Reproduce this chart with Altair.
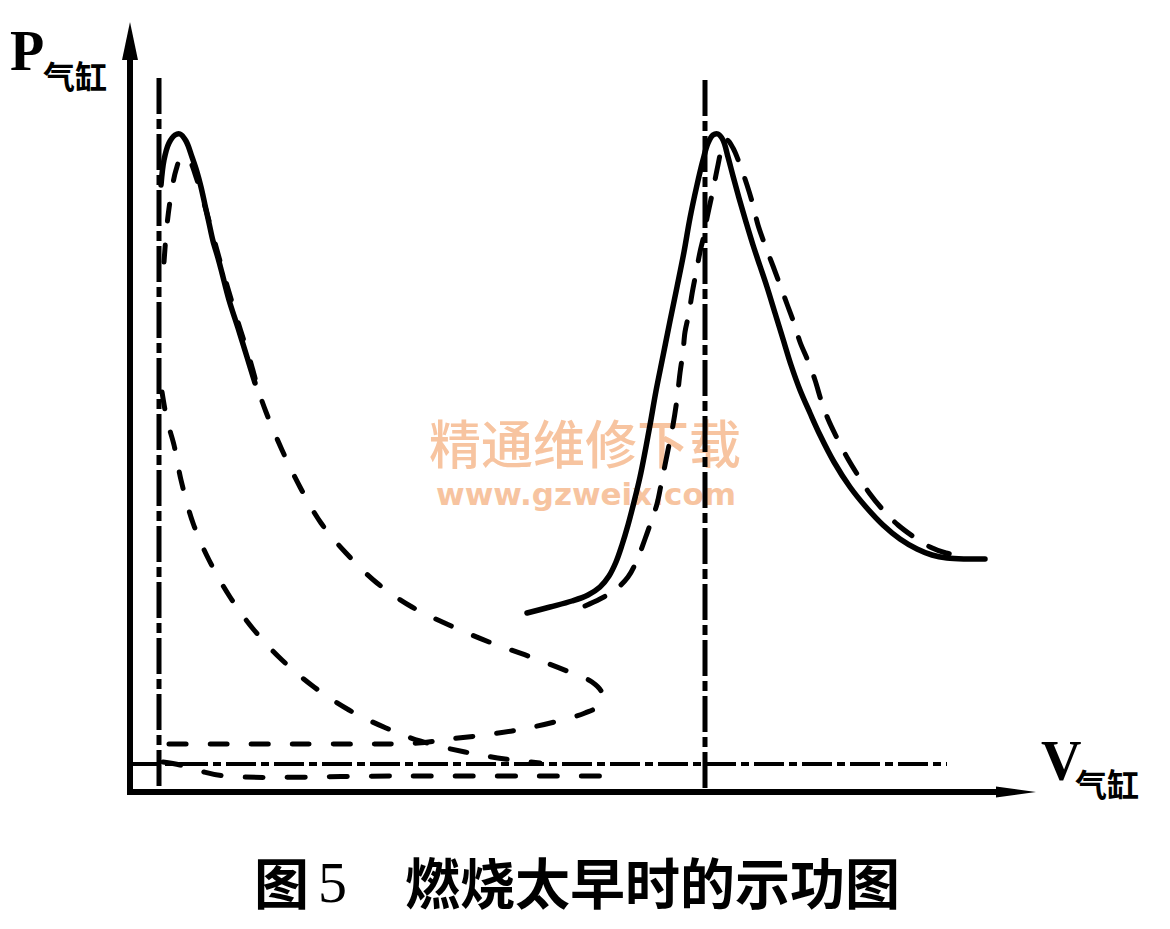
import altair as alt
import pandas as pd

# ---- values (picture px: x right, y down) ----
X0, Y0 = 130, 792          # where the two axes meet in the picture

solid_left = [(161,185),(164,160),(169,143),(175,135),(180,134),(186,141),(192,157),(197,172),
              (201,187),(205,205),(209,223),(213,241),(218,258),(222,273),(229,300),(238,328),
              (247,357),(255,383)]

dashed_outer = [(164,262),(167,225),(171,195),(176,170),(182,156),(189,160),(197,180),(206,210),
                (215,243),(226,282),(238,322),(250,360),(259,392),(266,412),(282,450),(300,487),
                (321,523),(346,553),(377,583),(412,607),(449,625),(489,642),(528,656),(567,671),
                (592,682),(602,693),(600,705),(585,713),(573,717),(533,727),(492,734),(450,739),
                (418,743),(380,744),(300,744),(220,744),(160,744)]

dashed_inner = [(162,392),(167,420),(174,445),(181,480),(193,523),(209,560),(230,597),(254,630),
                (282,660),(314,687),(349,710),(386,728),(420,741),(465,752),(505,759),(540,763)]

dashed_low = [(163,762),(180,765),(200,771),(225,776),(400,776),(605,776)]

solid_right = [(527,613),(550,607),(572,601),(588,595),(600,587),(609,576),(616,562),(622,545),
               (628,525),(634,502),(640,477),(645,452),(650,425),(656,391),(663,356),(670,321),
               (677,287),(684,252),(690,218),(697,185),(703,160),(708,143),(713,135),(718,134),
               (723,140),(728,157),(733,176),(739,198),(746,222),(753,245),(760,266),(767,287),
               (775,313),(783,339),(791,365),(800,390),(810,413),(820,435),(834,462),(850,487),
               (866,507),(883,525),(900,539),(917,549),(932,555),(947,558),(966,559),(985,559)]

dashed_right = [(585,606),(600,599),(615,590),(628,577),(637,560),(645,539),(651,522),(657,504),
                (661,485),(665,465),(669,445),(673,425),(677,399),(680,373),(683,352),(685,332),
                (689,313),(692,294),(696,273),(700,252),(704,235),(707,218),(713,190),(718,165),
                (722,148),(727,140),(733,148),(740,165),(747,185),(753,205),(758,225),(765,245),
                (773,266),(780,285),(787,304),(794,323),(800,342),(808,361),(815,380),(821,400),
                (828,419),(838,440),(848,459),(859,477),(870,494),(884,511),(898,525),(914,537),
                (930,547),(946,553),(963,556)]

tdc_left = [(159,78),(159,795)]
tdc_right = [(705,80),(705,795)]
dashdot_h = [(130,764),(947,764)]
axis_y = [(130,795),(130,52)]
axis_x = [(127,792),(1000,792)]
arrow_y = [(130,41)]
arrow_x = [(1016,792)]

labels_serif = [("P", 10, 70), ("V", 1041, 780)]
labels_sub = [("气缸", 43, 89), ("气缸", 1075, 797)]
caption_cjk = [("图", 254, 904), ("燃烧太早时的示功图", 405, 904)]
caption_num = [("5", 318, 902)]
watermark_cn = [("精通维修下载", 585, 464)]
watermark_url = [("www.gzweix.com", 586, 505)]


def pts(seq):
    return pd.DataFrame({"V": [x - X0 for x, y in seq],
                         "P": [Y0 - y for x, y in seq],
                         "i": list(range(len(seq)))})


def txt(seq):
    return pd.DataFrame({"t": [s for s, x, y in seq],
                         "V": [x - X0 for s, x, y in seq],
                         "P": [Y0 - y for s, x, y in seq]})


xs = alt.Scale(domain=[8 - X0, 1162 - X0], nice=False, zero=False)
ys = alt.Scale(domain=[Y0 - 921, Y0 - 8], nice=False, zero=False)
X = alt.X("V:Q", scale=xs, axis=None)
Y = alt.Y("P:Q", scale=ys, axis=None)


def line(seq, width, dash=None, interp="catmull-rom", cap="round"):
    kw = dict(color="black", strokeWidth=width, interpolate=interp, strokeCap=cap, clip=False)
    if dash:
        kw["strokeDash"] = dash
    return alt.Chart(pts(seq)).mark_line(**kw).encode(x=X, y=Y, order="i:Q")


def text(seq, **kw):
    return alt.Chart(txt(seq)).mark_text(**kw).encode(x=X, y=Y, text="t:N")


peach = "#F7C4A0"
layers = [
    text(watermark_cn, font="Noto Sans CJK SC", fontSize=52, fontWeight=500, color=peach,
         align="center", baseline="alphabetic"),
    text(watermark_url, font="DejaVu Sans", fontSize=31, fontWeight="bold", color=peach,
         align="center", baseline="alphabetic"),
    line(tdc_left, 5, dash=[36, 5, 10, 5], interp="linear", cap="butt"),
    line(tdc_right, 5, dash=[36, 5, 10, 5], interp="linear", cap="butt"),
    line(dashdot_h, 4, dash=[30, 5, 8, 5], interp="linear", cap="butt"),
    line(axis_y, 6, interp="linear", cap="butt"),
    line(axis_x, 6, interp="linear", cap="butt"),
    line(solid_left, 5.5),
    line(dashed_outer, 5, dash=[17, 24]),
    line(dashed_inner, 5, dash=[17, 24]),
    line(dashed_low, 5, dash=[18, 24]),
    line(solid_right, 5.5),
    line(dashed_right, 5, dash=[22, 20]),
    alt.Chart(pts(arrow_y)).mark_point(shape="M0,-1L0.42,1L-0.42,1Z", size=1444, filled=True,
                                       color="black", opacity=1, strokeWidth=0).encode(x=X, y=Y),
    alt.Chart(pts(arrow_x)).mark_point(shape="M1,0L-1,-0.27L-1,0.27Z", size=1600, filled=True,
                                       color="black", opacity=1, strokeWidth=0).encode(x=X, y=Y),
    text(labels_serif, font="Liberation Serif", fontSize=56, fontWeight="bold", color="black",
         align="left", baseline="alphabetic"),
    text(labels_sub, font="Noto Sans CJK SC", fontSize=32, fontWeight="bold", color="black",
         align="left", baseline="alphabetic"),
    text(caption_cjk, font="Noto Sans CJK SC", fontSize=55, fontWeight="bold", color="black",
         align="left", baseline="alphabetic"),
    text(caption_num, font="Liberation Serif", fontSize=58, color="black",
         align="left", baseline="alphabetic"),
]

chart = alt.layer(*layers).properties(
    width=1154, height=913, padding=0, autosize="none", background="white"
).configure_view(stroke=None)

chart.save("out.html", embed_options={"renderer": "svg", "actions": False})
